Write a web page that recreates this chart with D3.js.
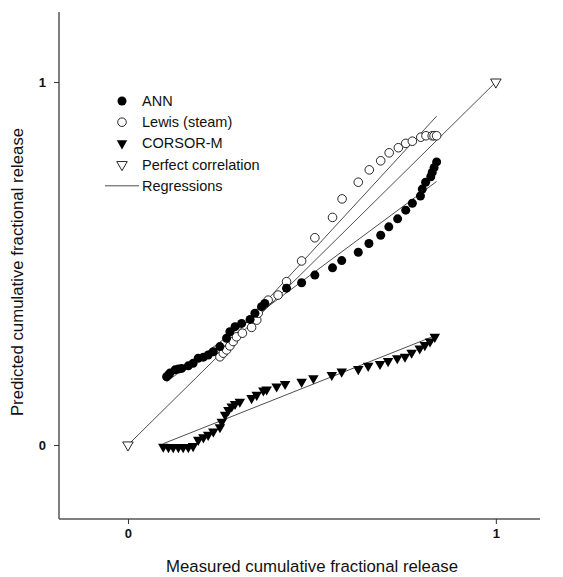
<!DOCTYPE html>
<html><head><meta charset="utf-8">
<script src="https://cdn.jsdelivr.net/npm/d3@7"></script>
<style>body{margin:0;background:#fff}svg{display:block}text{font-family:"Liberation Sans",Arial,sans-serif}</style>
</head><body><svg id="c" width="563" height="577"></svg>
<script>
const annX=[0.105,0.110,0.114,0.128,0.137,0.146,0.164,0.177,0.191,0.205,0.218,0.232,0.250,0.268,0.277,0.291,0.309,0.332,0.345,0.363,0.372,0.431,0.472,0.508,0.556,0.581,0.626,0.655,0.687,0.709,0.733,0.755,0.773,0.795,0.800,0.809,0.823,0.827,0.832,0.839];
const annY=[0.188,0.193,0.198,0.207,0.209,0.211,0.218,0.225,0.239,0.242,0.248,0.257,0.271,0.294,0.312,0.326,0.335,0.346,0.363,0.381,0.390,0.432,0.447,0.468,0.488,0.508,0.531,0.555,0.578,0.601,0.623,0.647,0.666,0.686,0.705,0.724,0.739,0.751,0.764,0.780];
const lewisX=[0.250,0.259,0.268,0.277,0.286,0.295,0.311,0.336,0.350,0.354,0.381,0.408,0.431,0.472,0.508,0.556,0.582,0.626,0.656,0.687,0.710,0.735,0.755,0.773,0.796,0.810,0.827,0.832,0.839];
const lewisY=[0.243,0.253,0.262,0.273,0.285,0.298,0.308,0.324,0.344,0.363,0.399,0.413,0.450,0.507,0.571,0.627,0.678,0.724,0.758,0.783,0.805,0.819,0.831,0.837,0.848,0.852,0.852,0.852,0.852];
const corsorX=[0.096,0.110,0.123,0.137,0.150,0.164,0.177,0.191,0.205,0.218,0.232,0.250,0.255,0.264,0.273,0.282,0.291,0.304,0.336,0.350,0.368,0.377,0.404,0.427,0.472,0.504,0.554,0.581,0.626,0.653,0.685,0.707,0.732,0.753,0.771,0.793,0.807,0.821,0.834];
const corsorY=[-0.005,-0.006,-0.006,-0.006,-0.006,-0.006,-0.003,0.014,0.021,0.028,0.037,0.049,0.064,0.083,0.096,0.106,0.113,0.119,0.129,0.138,0.150,0.153,0.161,0.168,0.174,0.184,0.193,0.202,0.209,0.218,0.223,0.231,0.239,0.243,0.254,0.266,0.275,0.285,0.298];
const perfectX=[0,1];
const perfectY=[0,1];
// regression lines: [slope, intercept]
const regSeries=["ANN","Lewis (steam)","CORSOR-M"];
const regSlope=[0.7515,1.100,0.4025];
const regIntercept=[0.0955,-0.017,-0.035];
const legendLabels=["ANN","Lewis (steam)","CORSOR-M","Perfect correlation","Regressions"];
const xTicks=[0,1], yTicks=[0,1];
const xTitle="Measured cumulative fractional release";
const yTitle="Predicted cumulative fractional release";

const svg=d3.select("#c");
const x=d3.scaleLinear().domain([-0.1875,1.12]).range([59,540]);
const y=d3.scaleLinear().domain([-0.204,1.193]).range([519,12]);
const axCol="#555";

// axes
const gx=svg.append("g").attr("transform",`translate(0,${y.range()[0]})`)
  .call(d3.axisBottom(x).tickValues(xTicks).tickSize(5).tickPadding(5).tickFormat(d3.format("d")));
const gy=svg.append("g").attr("transform",`translate(${x.range()[0]},0)`)
  .call(d3.axisLeft(y).tickValues(yTicks).tickSize(5).tickPadding(8).tickFormat(d3.format("d")));
[gx,gy].forEach(g=>{
  g.select(".domain").attr("stroke",axCol).attr("stroke-width",1.5);
  g.selectAll(".tick line").attr("stroke","#333");
  g.selectAll(".tick text").attr("font-size",13).attr("font-weight","bold").attr("fill","#111").attr("font-family","Liberation Sans, Arial, sans-serif");
});
gy.select(".domain").attr("d",`M0,${y.range()[1]}V${y.range()[0]}`);
gx.select(".domain").attr("d",`M${x.range()[0]},0H${x.range()[1]}`);

// titles
svg.append("text").attr("x",312).attr("y",572).attr("text-anchor","middle").attr("font-size",16.8).attr("fill","#111").text(xTitle);
svg.append("text").attr("transform","translate(23,272) rotate(-90)").attr("text-anchor","middle").attr("font-size",16.8).attr("fill","#111").text(yTitle);

// perfect correlation line
const line=d3.line().x(d=>x(d[0])).y(d=>y(d[1]));
svg.append("path").attr("d",line(perfectX.map((v,i)=>[v,perfectY[i]]))).attr("stroke","#222").attr("stroke-width",0.8).attr("fill","none");

// regression lines over each series' x range
const seriesXs=[annX,lewisX,corsorX];
regSeries.forEach((s,i)=>{
  const [a,b]=d3.extent(seriesXs[i]);
  svg.append("path").attr("d",line([[a,regIntercept[i]+regSlope[i]*a],[b,regIntercept[i]+regSlope[i]*b]]))
    .attr("stroke","#222").attr("stroke-width",0.8).attr("fill","none");
});

const tri=d3.symbol().type(d3.symbolTriangle).size(48);
// Lewis open circles
svg.append("g").selectAll("circle").data(lewisX.map((v,i)=>[v,lewisY[i]])).join("circle")
  .attr("cx",d=>x(d[0])).attr("cy",d=>y(d[1])).attr("r",4.3).attr("fill","#fff").attr("stroke","#111").attr("stroke-width",0.9);
// ANN filled circles
svg.append("g").selectAll("circle").data(annX.map((v,i)=>[v,annY[i]])).join("circle")
  .attr("cx",d=>x(d[0])).attr("cy",d=>y(d[1])).attr("r",4.5).attr("fill","#000");
// CORSOR filled down triangles
svg.append("g").selectAll("path").data(corsorX.map((v,i)=>[v,corsorY[i]])).join("path")
  .attr("d",tri).attr("transform",d=>`translate(${x(d[0])},${y(d[1])}) rotate(180)`).attr("fill","#000");
// perfect correlation open triangles
svg.append("g").selectAll("path").data(perfectX.map((v,i)=>[v,perfectY[i]])).join("path")
  .attr("d",tri).attr("transform",d=>`translate(${x(d[0])},${y(d[1])}) rotate(180)`).attr("fill","#fff").attr("stroke","#111").attr("stroke-width",0.9);

// legend
const lg=svg.append("g");
const ly0=101, ldy=21.2, mx=122, tx=142;
legendLabels.forEach((t,i)=>{
  const yy=ly0+i*ldy;
  if(i===0) lg.append("circle").attr("cx",mx).attr("cy",yy).attr("r",4.5).attr("fill","#000");
  if(i===1) lg.append("circle").attr("cx",mx).attr("cy",yy).attr("r",4.3).attr("fill","#fff").attr("stroke","#111").attr("stroke-width",0.9);
  if(i===2) lg.append("path").attr("d",tri).attr("transform",`translate(${mx},${yy}) rotate(180)`).attr("fill","#000");
  if(i===3) lg.append("path").attr("d",tri).attr("transform",`translate(${mx},${yy}) rotate(180)`).attr("fill","#fff").attr("stroke","#111").attr("stroke-width",0.9);
  if(i===4) lg.append("line").attr("x1",105).attr("x2",139).attr("y1",yy).attr("y2",yy).attr("stroke","#222").attr("stroke-width",0.8);
  lg.append("text").attr("x",tx).attr("y",yy).attr("dy","0.35em").attr("font-size",14.5).attr("fill","#111").text(t);
});
</script></body></html>
